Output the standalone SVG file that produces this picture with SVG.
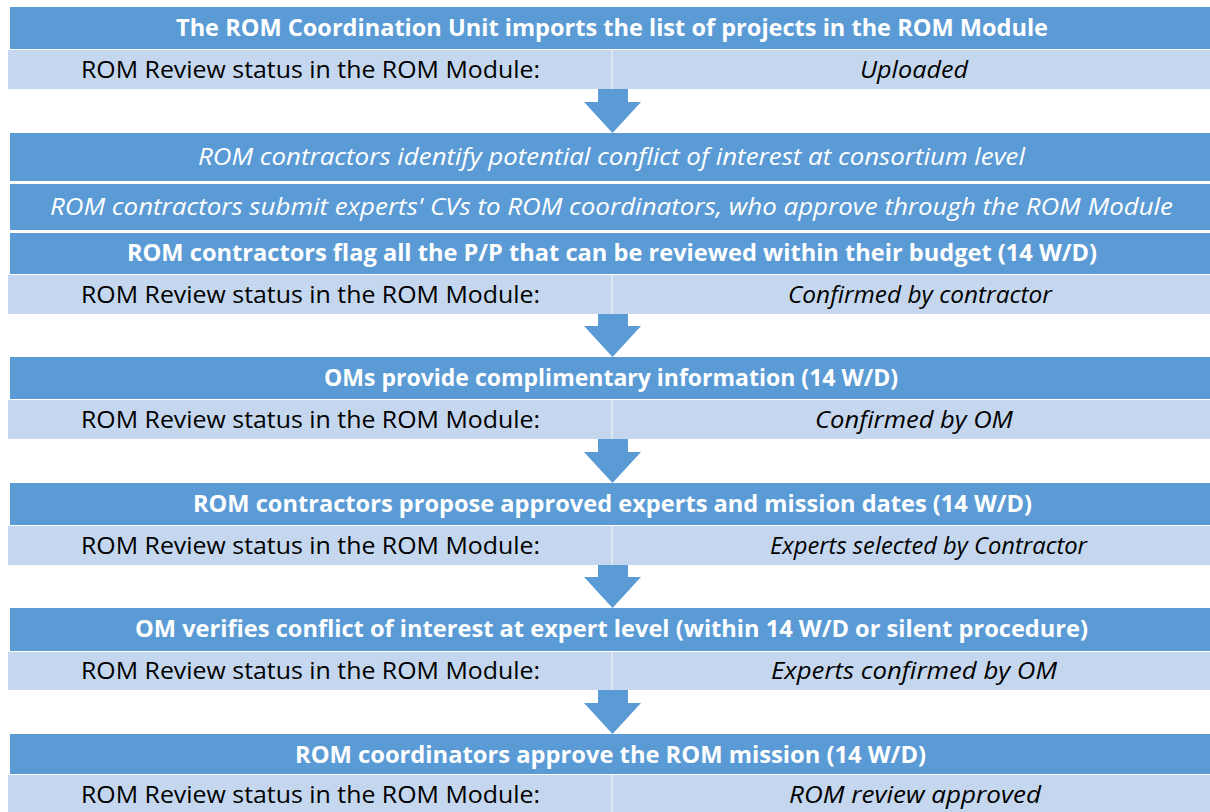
<svg xmlns="http://www.w3.org/2000/svg" width="1210" height="812" viewBox="0 0 1210 812">
<style>
.hd{fill:#5B9BD5}
.lt{fill:#C5D7EE}
.div{fill:#DCE7F4}
.tb{font-family:"Open Sans","Liberation Sans",sans-serif;font-size:23px;font-weight:bold;fill:#FFFFFF}
.ti{font-family:"Open Sans","Liberation Sans",sans-serif;font-size:23px;font-style:italic;fill:#FFFFFF}
.tn{font-family:"Open Sans","Liberation Sans",sans-serif;font-size:23px;fill:#000000}
.tni{font-family:"Open Sans","Liberation Sans",sans-serif;font-size:23px;font-style:italic;fill:#000000}
.arr{fill:#5B9BD5}
</style>
<rect width="1210" height="812" fill="#FFFFFF"/>
<g id="connectors">
<polygon class="arr" points="598,89 628,89 628,102 641,102 612.5,133 584,102 598,102"/>
<polygon class="arr" points="598,314 628,314 628,326 641,326 612.5,357 584,326 598,326"/>
<polygon class="arr" points="598,439 628,439 628,452 641,452 612.5,483 584,452 598,452"/>
<polygon class="arr" points="598,565 628,565 628,577 641,577 612.5,608 584,577 598,577"/>
<polygon class="arr" points="598,690 628,690 628,703 641,703 612.5,734 584,703 598,703"/>
</g>
<g id="node1">
<rect class="hd" x="10" y="7" width="1200" height="42"/>
<rect class="lt" x="8" y="50" width="1202" height="39"/>
<rect class="div" x="611" y="50" width="2" height="39"/>
<text class="tb" x="176" y="36" textLength="872" lengthAdjust="spacingAndGlyphs">The ROM Coordination Unit imports the list of projects in the ROM Module</text>
<text class="tn" x="81" y="78" textLength="459" lengthAdjust="spacingAndGlyphs">ROM Review status in the ROM Module:</text>
<text class="tni" x="860" y="78" textLength="108" lengthAdjust="spacingAndGlyphs">Uploaded</text>
</g>
<g id="node2">
<rect class="hd" x="10" y="133" width="1200" height="48"/>
<rect class="hd" x="10" y="184" width="1200" height="46"/>
<rect class="hd" x="10" y="233" width="1200" height="41"/>
<rect class="lt" x="8" y="275" width="1202" height="39"/>
<rect class="div" x="611" y="275" width="2" height="39"/>
<text class="ti" x="198" y="165" textLength="827" lengthAdjust="spacingAndGlyphs">ROM contractors identify potential conflict of interest at consortium level</text>
<text class="ti" x="50" y="215" textLength="1123" lengthAdjust="spacingAndGlyphs">ROM contractors submit experts' CVs to ROM coordinators, who approve through the ROM Module</text>
<text class="tb" x="127" y="261" textLength="970" lengthAdjust="spacingAndGlyphs">ROM contractors flag all the P/P that can be reviewed within their budget (14 W/D)</text>
<text class="tn" x="81" y="303" textLength="459" lengthAdjust="spacingAndGlyphs">ROM Review status in the ROM Module:</text>
<text class="tni" x="788" y="303" textLength="264" lengthAdjust="spacingAndGlyphs">Confirmed by contractor</text>
</g>
<g id="node3">
<rect class="hd" x="10" y="357" width="1200" height="42"/>
<rect class="lt" x="8" y="400" width="1202" height="39"/>
<rect class="div" x="611" y="400" width="2" height="39"/>
<text class="tb" x="324" y="386" textLength="574" lengthAdjust="spacingAndGlyphs">OMs provide complimentary information (14 W/D)</text>
<text class="tn" x="81" y="428" textLength="459" lengthAdjust="spacingAndGlyphs">ROM Review status in the ROM Module:</text>
<text class="tni" x="815" y="428" textLength="198" lengthAdjust="spacingAndGlyphs">Confirmed by OM</text>
</g>
<g id="node4">
<rect class="hd" x="10" y="483" width="1200" height="42"/>
<rect class="lt" x="8" y="526" width="1202" height="39"/>
<rect class="div" x="611" y="526" width="2" height="39"/>
<text class="tb" x="193" y="512" textLength="839" lengthAdjust="spacingAndGlyphs">ROM contractors propose approved experts and mission dates (14 W/D)</text>
<text class="tn" x="81" y="554" textLength="459" lengthAdjust="spacingAndGlyphs">ROM Review status in the ROM Module:</text>
<text class="tni" x="770" y="554" textLength="317" lengthAdjust="spacingAndGlyphs">Experts selected by Contractor</text>
</g>
<g id="node5">
<rect class="hd" x="10" y="608" width="1200" height="43"/>
<rect class="lt" x="8" y="652" width="1202" height="38"/>
<rect class="div" x="611" y="652" width="2" height="38"/>
<text class="tb" x="135" y="637" textLength="953" lengthAdjust="spacingAndGlyphs">OM verifies conflict of interest at expert level (within 14 W/D or silent procedure)</text>
<text class="tn" x="81" y="679" textLength="459" lengthAdjust="spacingAndGlyphs">ROM Review status in the ROM Module:</text>
<text class="tni" x="771" y="679" textLength="286" lengthAdjust="spacingAndGlyphs">Experts confirmed by OM</text>
</g>
<g id="node6">
<rect class="hd" x="10" y="734" width="1200" height="40"/>
<rect class="lt" x="8" y="775" width="1202" height="37"/>
<rect class="div" x="611" y="775" width="2" height="37"/>
<text class="tb" x="295" y="763" textLength="631" lengthAdjust="spacingAndGlyphs">ROM coordinators approve the ROM mission (14 W/D)</text>
<text class="tn" x="81" y="803" textLength="459" lengthAdjust="spacingAndGlyphs">ROM Review status in the ROM Module:</text>
<text class="tni" x="789" y="803" textLength="252" lengthAdjust="spacingAndGlyphs">ROM review approved</text>
</g>
</svg>
